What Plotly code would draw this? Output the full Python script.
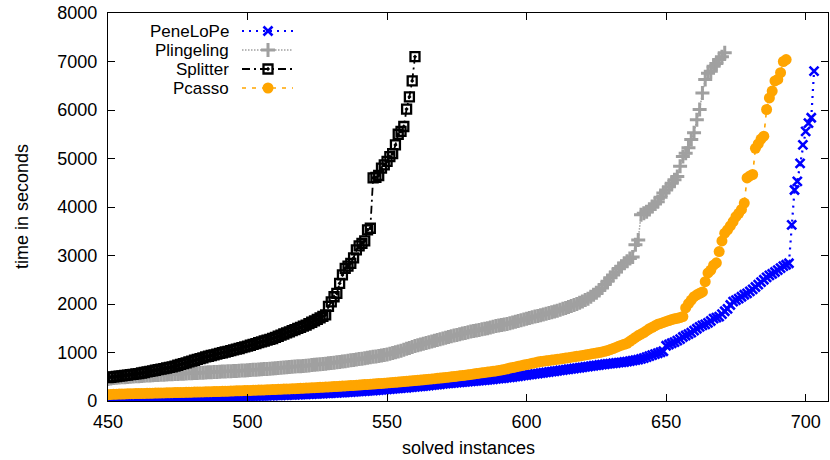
import plotly.graph_objects as go

# ---------------- data (sorted run times, one value per solved instance) ----------------
FIRST_INSTANCE = 450

PENELOPE = [
    30, 35, 38, 40, 42, 44, 45, 47, 48, 50,
    51, 52, 54, 55, 56, 57, 58, 60, 61, 62,
    63, 64, 65, 66, 67, 69, 70, 71, 72, 73,
    74, 75, 76, 78, 79, 80, 81, 82, 84, 85,
    86, 87, 88, 90, 91, 92, 94, 95, 96, 98,
    99, 100, 102, 103, 105, 106, 108, 110, 111, 113,
    115, 117, 119, 121, 123, 125, 127, 129, 131, 134,
    136, 138, 141, 143, 146, 148, 151, 154, 157, 160,
    163, 166, 169, 172, 175, 179, 182, 186, 190, 193,
    197, 201, 205, 209, 213, 217, 221, 226, 230, 235,
    239, 244, 249, 254, 259, 264, 269, 274, 280, 285,
    291, 296, 302, 308, 314, 320, 326, 333, 339, 346,
    352, 358, 363, 369, 374, 379, 384, 389, 394, 399,
    404, 409, 414, 420, 426, 431, 437, 443, 449, 455,
    461, 467, 474, 481, 488, 495, 503, 511, 519, 527,
    535, 543, 551, 559, 566, 574, 582, 590, 598, 606,
    614, 622, 630, 638, 646, 654, 662, 670, 678, 686,
    694, 702, 710, 718, 726, 734, 742, 750, 758, 766,
    772, 778, 784, 790, 797, 805, 813, 822, 832, 842,
    852, 868, 885, 903, 925, 945, 965, 985, 1005, 1025,
    1140, 1165, 1190, 1215, 1245, 1275, 1320, 1350, 1380, 1410,
    1450, 1490, 1530, 1560, 1580, 1610, 1650, 1700, 1720, 1740,
    1790, 1850, 1900, 1980, 2050, 2080, 2110, 2150, 2190, 2220,
    2260, 2300, 2350, 2400, 2450, 2500, 2550, 2590, 2620, 2660,
    2700, 2740, 2780, 2810, 2840, 3630, 4350, 4530, 4900, 5280,
    5560, 5730, 5840, 6800,
]

PLINGELING = [
    455, 465, 472, 478, 483, 488, 492, 496, 500, 504,
    508, 512, 516, 520, 524, 527, 530, 534, 537, 540,
    543, 546, 549, 552, 555, 558, 561, 564, 567, 570,
    573, 576, 579, 582, 585, 588, 591, 594, 597, 600,
    603, 606, 609, 612, 615, 618, 621, 624, 627, 630,
    634, 638, 642, 646, 650, 654, 658, 662, 666, 670,
    674, 679, 684, 689, 694, 699, 704, 709, 714, 719,
    724, 729, 734, 740, 746, 752, 758, 764, 770, 776,
    782, 790, 798, 806, 814, 822, 830, 838, 846, 855,
    864, 873, 882, 891, 900, 910, 920, 930, 940, 950,
    960, 975, 990, 1005, 1020, 1038, 1056, 1075, 1095, 1115,
    1135, 1150, 1165, 1180, 1195, 1210, 1225, 1240, 1258, 1275,
    1290, 1305, 1320, 1334, 1348, 1362, 1376, 1390, 1404, 1418,
    1432, 1444, 1455, 1466, 1477, 1488, 1500, 1515, 1530, 1545,
    1555, 1565, 1575, 1590, 1605, 1620, 1635, 1650, 1665, 1680,
    1695, 1710, 1725, 1740, 1755, 1770, 1785, 1800, 1815, 1830,
    1845, 1860, 1880, 1900, 1920, 1940, 1960, 1980, 2000, 2025,
    2050, 2080, 2110, 2150, 2190, 2230, 2280, 2330, 2400, 2470,
    2540, 2600, 2660, 2730, 2780, 2840, 2880, 2940, 2970, 3220,
    3320, 3840, 3870, 3900, 3950, 4010, 4060, 4110, 4200, 4290,
    4350, 4420, 4490, 4560, 4630, 4840, 5040, 5110, 5220, 5390,
    5530, 5800, 6010, 6350, 6630, 6760, 6800, 6900, 6960, 7040,
    7100, 7180,
]

SPLITTER = [
    483, 490, 497, 505, 512, 520, 527, 535, 543, 550,
    558, 566, 577, 588, 600, 611, 623, 634, 646, 657,
    669, 680, 692, 703, 720, 737, 754, 771, 788, 805,
    822, 840, 857, 874, 891, 909, 923, 938, 952, 967,
    981, 995, 1010, 1024, 1039, 1053, 1068, 1082, 1099, 1116,
    1133, 1150, 1168, 1185, 1202, 1220, 1237, 1254, 1271, 1289,
    1312, 1335, 1358, 1381, 1404, 1427, 1450, 1473, 1496, 1519,
    1542, 1564, 1594, 1624, 1654, 1684, 1714, 1745, 1775, 1950,
    2045, 2150, 2219, 2426, 2600, 2736, 2780, 2839, 2950, 3114,
    3200, 3252, 3300, 3527, 3562, 4600, 4610, 4650, 4800, 4870,
    4940, 5040, 5100, 5280, 5500, 5560, 5660, 6020, 6270, 6600,
    7100,
]

PCASSO = [
    130, 135, 138, 140, 142, 144, 146, 148, 150, 151,
    153, 154, 156, 157, 159, 160, 161, 163, 164, 166,
    167, 168, 170, 171, 173, 174, 176, 177, 179, 180,
    182, 183, 185, 186, 188, 190, 191, 193, 195, 196,
    198, 200, 201, 203, 205, 207, 209, 211, 213, 215,
    217, 219, 221, 223, 225, 227, 229, 231, 233, 236,
    238, 240, 243, 245, 248, 250, 253, 255, 258, 261,
    264, 266, 269, 272, 275, 278, 281, 284, 287, 290,
    293, 297, 300, 304, 307, 311, 315, 318, 322, 326,
    330, 334, 338, 342, 346, 350, 355, 359, 363, 368,
    372, 377, 382, 386, 391, 396, 401, 406, 411, 417,
    422, 427, 433, 438, 444, 449, 455, 461, 467, 473,
    479, 485, 492, 498, 505, 512, 519, 526, 533, 540,
    548, 556, 565, 573, 581, 589, 597, 605, 613, 621,
    630, 640, 652, 665, 678, 690, 702, 715, 728, 740,
    752, 764, 776, 789, 802, 812, 820, 828, 836, 844,
    852, 860, 868, 876, 885, 894, 903, 912, 921, 930,
    940, 950, 960, 970, 980, 990, 1000, 1012, 1025, 1040,
    1060, 1080, 1105, 1130, 1150, 1170, 1190, 1230, 1270, 1310,
    1350, 1380, 1410, 1450, 1490, 1520, 1550, 1580, 1600, 1620,
    1640, 1660, 1680, 1695, 1705, 1720, 1740, 1920, 2010, 2080,
    2150, 2190, 2220, 2250, 2460, 2640, 2700, 2800, 2850, 3080,
    3300, 3460, 3530, 3610, 3700, 3800, 3870, 3950, 4080, 4600,
    4640, 4670, 5210, 5300, 5400, 5460, 6010, 6250, 6390, 6600,
    6630, 6770, 7000, 7040,
]

SERIES_NAMES = ["PeneLoPe", "Plingeling", "Splitter", "Pcasso"]
SERIES_VALUES = [PENELOPE, PLINGELING, SPLITTER, PCASSO]
X_TICKS = [450, 500, 550, 600, 650, 700]
Y_TICKS = [0, 1000, 2000, 3000, 4000, 5000, 6000, 7000, 8000]
X_TITLE = "solved instances"
Y_TITLE = "time in seconds"

# ---------------- styles ----------------
FONT = "Liberation Sans, Arial, Helvetica, sans-serif"
STYLES = [
    dict(color="#0000ff", dash="2px,5px", lw=2.2,
         marker=dict(symbol="x-thin", size=9, color="#0000ff", line=dict(width=2.6, color="#0000ff"))),
    dict(color="#a0a0a0", dash="1.5px,1.5px", lw=1.5,
         marker=dict(symbol="cross-thin", size=10, color="#a0a0a0", line=dict(width=3, color="#a0a0a0"))),
    dict(color="#000000", dash="8px,4px,2px,4px", lw=1.8,
         marker=dict(symbol="square-open-dot", size=9, color="#000000", line=dict(width=2.3, color="#000000"))),
    dict(color="#ffa500", dash="4px,6px", lw=1.6,
         marker=dict(symbol="circle", size=11, color="#ffa500", line=dict(width=0))),
]

fig = go.Figure()
for name, vals, st in zip(SERIES_NAMES, SERIES_VALUES, STYLES):
    xs = list(range(FIRST_INSTANCE, FIRST_INSTANCE + len(vals)))
    fig.add_trace(go.Scatter(
        x=xs, y=vals, name=name, mode="lines+markers",
        line=dict(color=st["color"], width=st["lw"], dash=st["dash"]),
        marker=st["marker"], showlegend=False,
    ))

# ---------------- gnuplot-style key (text right-aligned, sample on the right) ----------------
# helper axes measured in pixels of the figure
KEY_TEXT_X = 230
KEY_LINE_X = [242, 268, 293]
KEY_ROWS_Y = [31, 50, 69, 88]
for name, st, ky in zip(SERIES_NAMES, STYLES, KEY_ROWS_Y):
    fig.add_trace(go.Scatter(
        x=[KEY_LINE_X[0], KEY_LINE_X[2]], y=[ky, ky], xaxis="x2", yaxis="y2", mode="lines",
        line=dict(color=st["color"], width=st["lw"], dash=st["dash"]), showlegend=False,
        hoverinfo="skip"))
    fig.add_trace(go.Scatter(
        x=[KEY_LINE_X[1]], y=[ky], xaxis="x2", yaxis="y2", mode="markers",
        marker=st["marker"], showlegend=False, hoverinfo="skip"))
    fig.add_annotation(x=KEY_TEXT_X, y=ky, xref="x2", yref="y2", text=name, showarrow=False,
                       xanchor="right", yanchor="middle", borderpad=0,
                       font=dict(family=FONT, size=17, color="black"))

axis_common = dict(showline=True, linecolor="black", linewidth=1.2, mirror="ticks",
                   ticks="inside", ticklen=7, tickwidth=1, tickcolor="black",
                   showgrid=False, zeroline=False,
                   tickfont=dict(family=FONT, size=18, color="black"))

fig.update_layout(
    width=830, height=460,
    margin=dict(l=108, r=2, t=13, b=59),
    paper_bgcolor="white", plot_bgcolor="white",
    xaxis=dict(range=[450, 708], tickvals=X_TICKS, ticklabelstandoff=4, **axis_common),
    yaxis=dict(range=[0, 8000], tickvals=Y_TICKS, ticklabelstandoff=6, **axis_common),
    xaxis2=dict(overlaying="x", range=[108, 828], visible=False, fixedrange=True),
    yaxis2=dict(overlaying="y", range=[401, 13], visible=False, fixedrange=True),
    showlegend=False,
)

fig.add_annotation(text=X_TITLE, xref="paper", yref="paper", x=0.5, y=0.0,
                   yshift=-47, showarrow=False, xanchor="center", yanchor="middle",
                   font=dict(family=FONT, size=18, color="black"))
fig.add_annotation(text=Y_TITLE, xref="paper", yref="paper", x=0, y=0.5, xshift=-86,
                   textangle=-90, showarrow=False, xanchor="center", yanchor="middle",
                   font=dict(family=FONT, size=18, color="black"))

fig.write_html("out.html", config={"displayModeBar": False},
               post_script="document.body.style.margin='0';")
